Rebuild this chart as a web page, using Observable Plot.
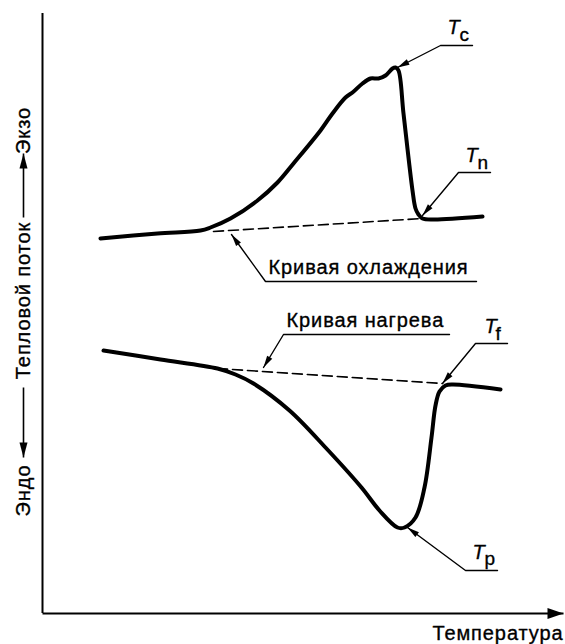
<!DOCTYPE html>
<html>
<head>
<meta charset="utf-8">
<script src="https://cdn.jsdelivr.net/npm/d3@7"></script>
<script src="https://cdn.jsdelivr.net/npm/@observablehq/plot@0.6"></script>
<style>
  html, body { margin: 0; padding: 0; background: #fff; }
</style>
</head>
<body>
<div id="chart"></div>
<script>
// ---- data (arbitrary units: temperature, heat flow) ----
const coolT = [58,115,158,168,188,215,235,251,278,290,303,310,320,328,336,343,350,353,356,361,370,373,376,380,391,440];
const coolQ = [375,380,383,386,395,413,431,450,483,500,516,521,530,535,535,538,545,546,543,500,423,405,399,395,394,397];

const heatT = [61,118,175,193,211,247,283,319,337,355,362,373,382,389,393,397,403,410,458];
const heatQ = [263,254,245,239,230,203,166,126,103,86,86,96,126,176,208,222,228,229,224];

const coolBaseT = [171,380];
const coolBaseQ = [382,395];
const heatBaseT = [175,400];
const heatBaseQ = [245,230];

// leader lines: label underline end, underline start, arrow tip
const leaderNames = ["okhl","nagr","Tc","Tn","Tf","Tp"];
const leaderT = [[434,223,189],[407,241,221],[430,398,355],[448,416,380],[465,433,400],[455,423,365]];
const leaderQ = [[332,332,379],[279,279,246],[568,568,546],[441,441,398],[270,270,230],[43,43,86]];

const curveLabels = ["Кривая охлаждения","Кривая нагрева"];
const curveLabelT = [226,244];
const curveLabelQ = [340,287];

const tSubs = ["c","n","f","p"];
const tLabelT = [405,423,442,430];
const tLabelQ = [580,452,281,55];
const tSubT = [417,435,453,442];
const tSubQ = [573,445,274,49];

const yLabelParts = ["Экзо","Тепловой поток","Эндо"];
const yLabelQ = [483,313,123];
const yLabelT = -19;
const yArrowFrom = [396,226];
const yArrowTo = [460,156];

const xLabel = "Температура";
const xAxisEnd = 521;

// ---- tables ----
const cool = coolT.map((t,i) => ({t, q: coolQ[i]}));
const heat = heatT.map((t,i) => ({t, q: heatQ[i]}));
const coolBase = coolBaseT.map((t,i) => ({t, q: coolBaseQ[i]}));
const heatBase = heatBaseT.map((t,i) => ({t, q: heatBaseQ[i]}));
const leaders = leaderNames.flatMap((name,k) => leaderT[k].map((t,i) => ({name, t, q: leaderQ[k][i]})));
const curveLab = curveLabels.map((text,i) => ({text, t: curveLabelT[i], q: curveLabelQ[i]}));
const tLab = tSubs.map((s,i) => ({s, t: tLabelT[i], q: tLabelQ[i], st: tSubT[i], sq: tSubQ[i]}));
const yLab = yLabelParts.map((text,i) => ({text, q: yLabelQ[i]}));
const yArrows = yArrowFrom.map((f,i) => ({from: f, to: yArrowTo[i]}));

function filledArrow(len, half) {
  return (color, context) => {
    const m = d3.create("svg:marker")
      .attr("markerUnits", "userSpaceOnUse")
      .attr("orient", "auto")
      .attr("markerWidth", 1).attr("markerHeight", 1)
      .attr("refX", 0).attr("refY", 0)
      .attr("overflow", "visible");
    m.append("path")
      .attr("d", `M${-len},${-half}L0,0L${-len},${half}Z`)
      .attr("fill", color).attr("stroke", "none");
    return m.node();
  };
}

// letter spacing for the wide lettering of the reference
const spaced = (ls) => function (index, scales, values, dimensions, context, next) {
  const g = next(index, scales, values, dimensions, context);
  g.setAttribute("letter-spacing", ls);
  return g;
};

const font = "'Liberation Sans', Arial, Helvetica, sans-serif";
const textStyle = {fill: "#000", stroke: "#000", strokeWidth: 0.35, paintOrder: "fill"};

const chart = Plot.plot({
  width: 565,
  height: 644,
  marginLeft: 42,
  marginRight: 3,
  marginTop: 13,
  marginBottom: 31,
  x: {domain: [0, 520], axis: null},
  y: {domain: [0, 600], axis: null},
  style: {fontFamily: font, background: "#fff", color: "#000"},
  marks: [
    // axes
    Plot.ruleX([0], {stroke: "#000", strokeWidth: 2}),
    Plot.link([0], {x1: 0, x2: xAxisEnd, y1: 0, y2: 0, stroke: "#000", strokeWidth: 2, markerEnd: filledArrow(16, 5.5)}),
    // dashed baselines
    Plot.line(coolBase, {x: "t", y: "q", stroke: "#000", strokeWidth: 1.6, strokeDasharray: "10,5"}),
    Plot.line(heatBase, {x: "t", y: "q", stroke: "#000", strokeWidth: 1.6, strokeDasharray: "10,5"}),
    // curves
    Plot.line(cool, {x: "t", y: "q", curve: "catmull-rom", stroke: "#000", strokeWidth: 4}),
    Plot.line(heat, {x: "t", y: "q", curve: "catmull-rom", stroke: "#000", strokeWidth: 4}),
    // leaders
    Plot.line(leaders, {x: "t", y: "q", z: "name", stroke: "#000", strokeWidth: 1.4, strokeLinejoin: "miter", markerEnd: filledArrow(12, 3)}),
    // curve labels
    Plot.text(curveLab, {x: "t", y: "q", text: "text", textAnchor: "start", lineAnchor: "bottom", fontSize: 20, ...textStyle, render: spaced("0.9px")}),
    // T labels
    Plot.text(tLab, {x: "t", y: "q", text: d => "T", textAnchor: "start", lineAnchor: "bottom", fontSize: 20, fontStyle: "italic", ...textStyle}),
    Plot.text(tLab, {x: "st", y: "sq", text: "s", textAnchor: "start", lineAnchor: "bottom", fontSize: 19, ...textStyle}),
    // y label
    Plot.text(yLab, {x: yLabelT, y: "q", text: "text", rotate: -90, textAnchor: "middle", lineAnchor: "middle", fontSize: 20, ...textStyle, render: spaced("0.9px")}),
    Plot.link(yArrows, {x1: yLabelT, x2: yLabelT, y1: "from", y2: "to", stroke: "#000", strokeWidth: 1.6, markerEnd: filledArrow(15, 4)}),
    // x label
    Plot.text([xLabel], {frameAnchor: "bottom-right", dx: 1, dy: 26, textAnchor: "end", lineAnchor: "bottom", fontSize: 20, ...textStyle, render: spaced("0.9px")})
  ]
});

document.getElementById("chart").appendChild(chart);
</script>
</body>
</html>
